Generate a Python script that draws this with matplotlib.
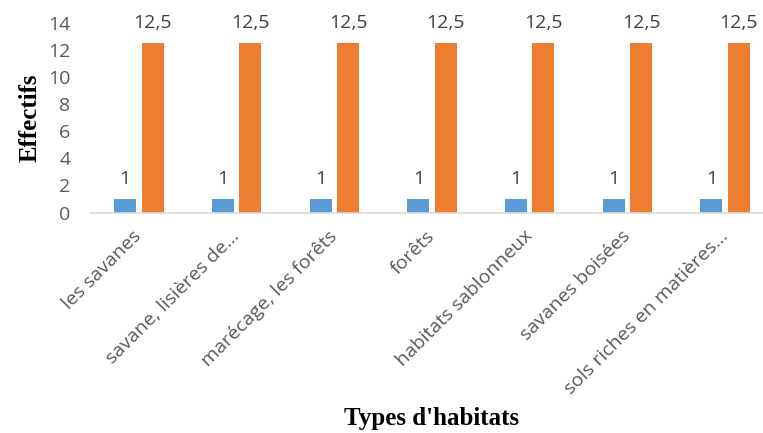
import matplotlib
matplotlib.use("Agg")
import matplotlib.pyplot as plt
import numpy as np

# data
habitats = ["les savanes", "savane, lisières de...", "marécage, les forêts", "forêts",
            "habitats sablonneux", "savanes boisées", "sols riches en matières..."]
serie1 = [1, 1, 1, 1, 1, 1, 1]
serie2 = [12.5, 12.5, 12.5, 12.5, 12.5, 12.5, 12.5]

blue = "#5B9BD5"
orange = "#ED7D31"
grey = "#595959"

fig = plt.figure(figsize=(7.63, 4.33), dpi=100)
ax = fig.add_axes([90 / 763, 0.509, 684 / 763, 0.439])

x = np.arange(len(habitats))
w = 0.225
off = 0.14
b1 = ax.bar(x - off, serie1, w, color=blue)
b2 = ax.bar(x + off, serie2, w, color=orange)

def fmt(v):
    return ("%g" % v).replace(".", ",")

for bars, vals in ((b1, serie1), (b2, serie2)):
    for r, v in zip(bars, vals):
        ax.annotate(fmt(v), (r.get_x() + r.get_width() / 2, v), xytext=(0, 8),
                    textcoords="offset points", ha="center", va="bottom",
                    fontsize=14, color="#404040", family="Open Sans", annotation_clip=False)

ax.set_xlim(-0.5, len(habitats) - 0.5)
ax.set_ylim(0, 14)
ax.set_yticks(range(0, 15, 2))
ax.set_xticks(x)
ax.set_xticklabels(habitats, rotation=45, ha="right", va="center",
                   rotation_mode="anchor", family="Open Sans", fontsize=14, color=grey)
for lab in ax.get_yticklabels():
    lab.set_family("Open Sans")
ax.tick_params(axis="y", length=0, labelsize=14, labelcolor=grey, pad=14)
ax.tick_params(axis="x", length=0, pad=15)
for s in ("left", "right", "top"):
    ax.spines[s].set_visible(False)
ax.spines["bottom"].set_color("#D9D9D9")
ax.spines["bottom"].set_linewidth(1.2)

fig.text(30 / 763, 1 - 118 / 433, "Effectifs", rotation=90, ha="center", va="center",
         family="Liberation Serif", fontweight="bold", fontsize=18)
fig.text(432 / 763, 1 - 418 / 433, "Types d'habitats", ha="center", va="center",
         family="Liberation Serif", fontweight="bold", fontsize=18)

fig.savefig("out.png", dpi=100)
